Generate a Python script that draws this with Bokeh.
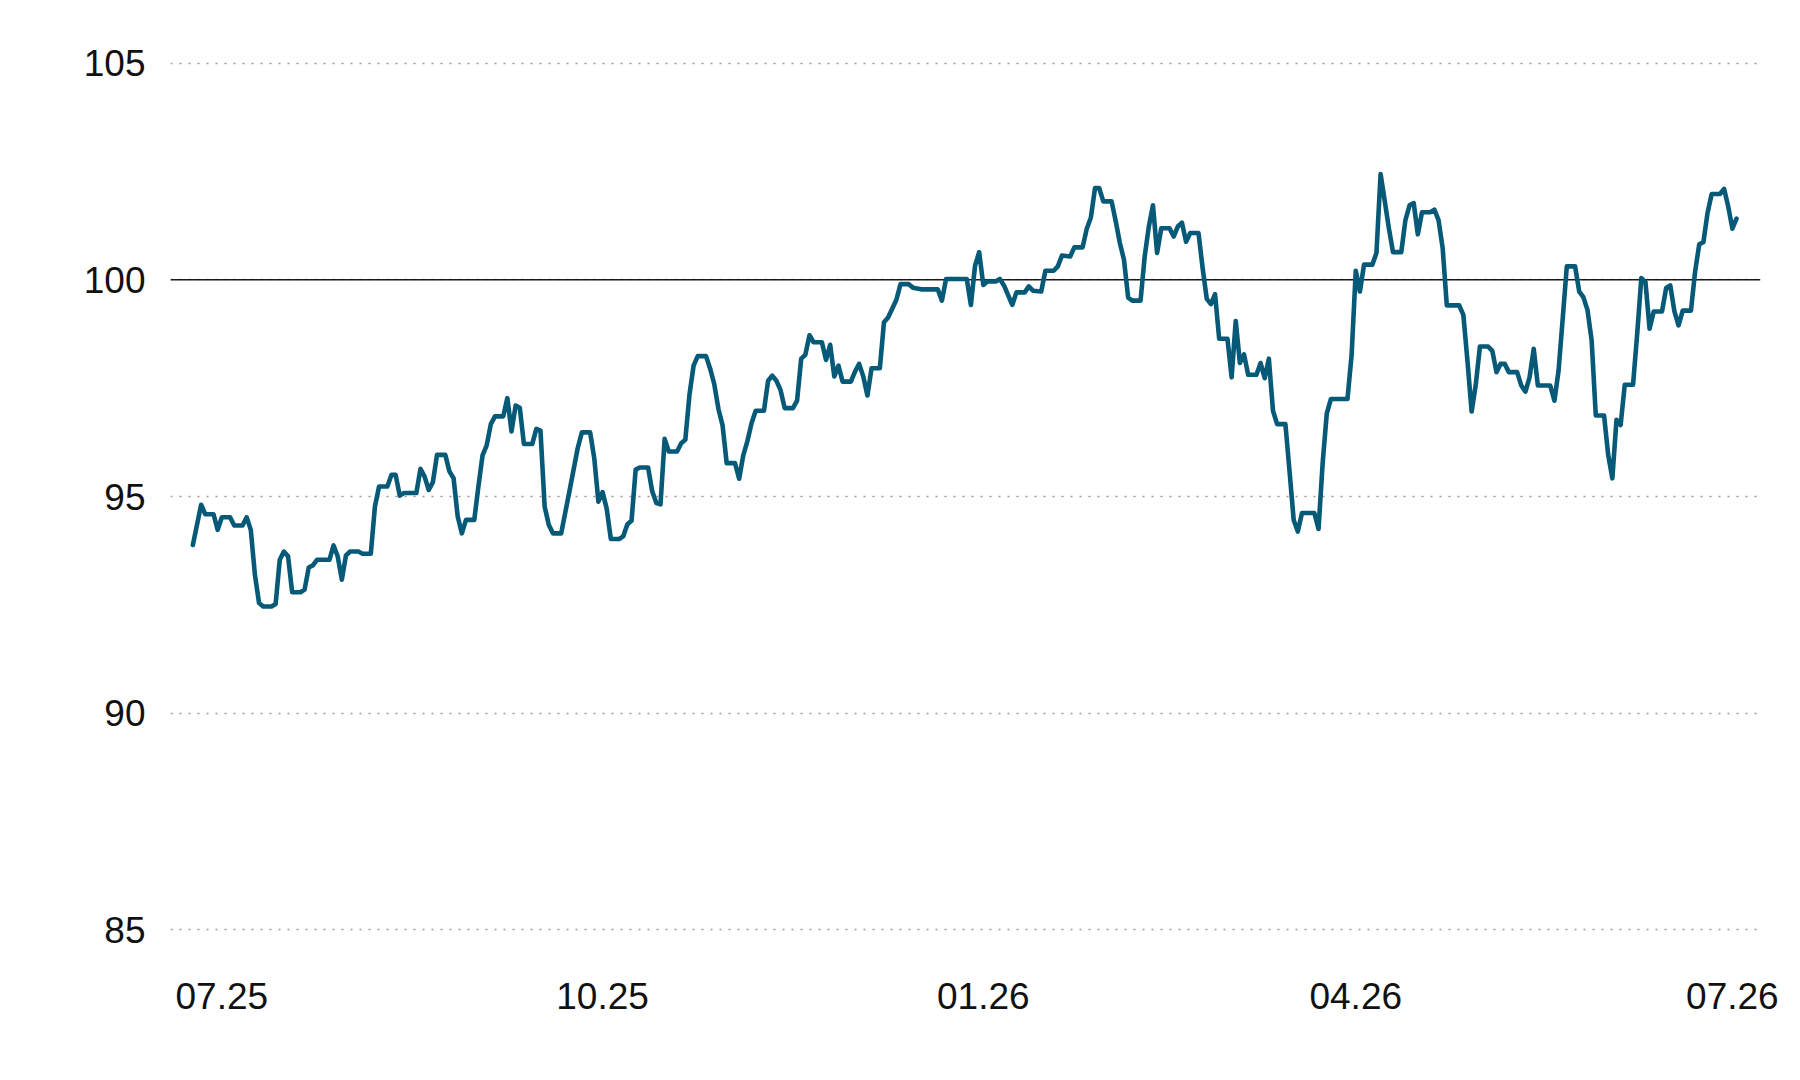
import pandas as pd
from bokeh.plotting import figure
from bokeh.models import Range1d, FixedTicker, DatetimeTickFormatter, Span
from bokeh.embed import file_html
from bokeh.resources import INLINE

# ---------------- data ----------------
start_date = "2025-07-01"
day_offset = [
    -7, -5, -4, -2, -1, 0, 2, 3, 5, 6, 7, 8, 9, 10, 12, 13, 14, 15, 16, 17, 19, 20,
    21, 22, 23, 26, 27, 28, 29, 30, 31, 33, 34, 36, 37, 38, 40, 41, 42, 43, 44, 47,
    48, 49, 50, 51, 52, 54, 55, 56, 57, 58, 59, 61, 62, 63, 64, 65, 66, 68, 69, 70,
    71, 72, 73, 75, 76, 77, 78, 79, 80, 82, 84, 86, 87, 89, 90, 91, 92, 93, 94, 96,
    97, 98, 99, 100, 101, 103, 104, 105, 106, 107, 108, 110, 111, 112, 113, 114, 115,
    117, 118, 119, 120, 121, 122, 124, 125, 126, 127, 128, 129, 131, 132, 133, 134,
    135, 136, 138, 139, 140, 141, 142, 143, 145, 146, 147, 148, 149, 150, 152, 153,
    154, 155, 156, 157, 159, 160, 161, 163, 164, 166, 167, 169, 173, 174, 175, 180,
    181, 182, 183, 184, 185, 187, 188, 189, 191, 192, 194, 195, 196, 198, 199, 201,
    202, 203, 205, 206, 208, 209, 210, 211, 212, 213, 215, 216, 217, 218, 219, 220,
    222, 223, 224, 225, 226, 227, 229, 230, 231, 232, 233, 234, 236, 237, 238, 239,
    240, 241, 243, 244, 245, 246, 247, 248, 250, 251, 252, 253, 254, 255, 257, 258,
    259, 260, 261, 264, 265, 266, 267, 268, 272, 273, 274, 275, 276, 278, 279, 280,
    281, 282, 283, 285, 286, 287, 288, 289, 290, 292, 293, 294, 295, 296, 299, 300,
    301, 302, 303, 304, 306, 307, 308, 309, 310, 311, 313, 314, 315, 316, 317, 318,
    321, 322, 323, 324, 325, 327, 328, 329, 330, 331, 332, 334, 335, 336, 337, 338,
    339, 341, 342, 343, 344, 345, 346, 348, 349, 350, 351, 352, 353, 355, 356, 357,
    358, 359, 360, 362, 363, 364, 365, 366,
]
index_value = [
    93.88, 94.81, 94.59, 94.59, 94.23, 94.52, 94.52, 94.33, 94.33, 94.52, 94.23, 93.19,
    92.54, 92.46, 92.46, 92.52, 93.54, 93.73, 93.62, 92.79, 92.79, 92.85, 93.36, 93.41,
    93.54, 93.54, 93.87, 93.62, 93.08, 93.64, 93.73, 93.73, 93.68, 93.68, 94.77, 95.23,
    95.23, 95.50, 95.50, 95.02, 95.08, 95.08, 95.64, 95.46, 95.15, 95.33, 95.96, 95.96,
    95.58, 95.42, 94.54, 94.15, 94.46, 94.46, 95.23, 95.95, 96.18, 96.67, 96.85, 96.85,
    97.27, 96.50, 97.10, 97.05, 96.21, 96.21, 96.56, 96.52, 94.77, 94.35, 94.15, 94.15,
    95.12, 96.12, 96.48, 96.48, 95.88, 94.88, 95.10, 94.72, 94.02, 94.02, 94.08, 94.36,
    94.44, 95.62, 95.67, 95.67, 95.12, 94.85, 94.82, 96.33, 96.04, 96.04, 96.23, 96.31,
    97.35, 98.02, 98.24, 98.24, 97.95, 97.59, 97.02, 96.64, 95.77, 95.77, 95.41, 95.95,
    96.28, 96.69, 96.98, 96.98, 97.67, 97.79, 97.67, 97.46, 97.04, 97.04, 97.21, 98.18,
    98.27, 98.72, 98.56, 98.56, 98.15, 98.50, 97.77, 98.02, 97.65, 97.65, 97.88, 98.06,
    97.77, 97.33, 97.96, 97.96, 99.02, 99.13, 99.54, 99.90, 99.90, 99.82, 99.78, 99.78,
    99.52, 100.02, 100.02, 99.42, 100.32, 100.64, 99.88, 99.96, 99.96, 100.02, 99.87,
    99.42, 99.71, 99.71, 99.85, 99.75, 99.73, 100.21, 100.21, 100.31, 100.56, 100.54,
    100.75, 100.75, 101.18, 101.44, 102.12, 102.12, 101.81, 101.81, 101.35, 100.85,
    100.46, 99.59, 99.52, 99.52, 100.54, 101.23, 101.72, 100.62, 101.19, 101.19, 101.00,
    101.23, 101.32, 100.88, 101.08, 101.08, 100.27, 99.56, 99.44, 99.67, 98.64, 98.64,
    97.75, 99.05, 98.08, 98.28, 97.81, 97.81, 98.08, 97.73, 98.18, 96.98, 96.67, 96.67,
    95.58, 94.46, 94.19, 94.62, 94.62, 94.25, 95.77, 96.92, 97.25, 97.25, 98.27, 100.21,
    99.73, 100.35, 100.35, 100.62, 102.44, 101.82, 101.19, 100.64, 100.64, 101.38,
    101.72, 101.77, 101.05, 101.56, 101.56, 101.62, 101.38, 100.73, 99.41, 99.41, 99.19,
    98.12, 96.96, 97.58, 98.46, 98.46, 98.36, 97.87, 98.06, 98.06, 97.87, 97.87, 97.56,
    97.42, 97.75, 98.41, 97.56, 97.56, 97.21, 97.90, 99.10, 100.31, 100.31, 99.73, 99.60,
    99.30, 98.60, 96.87, 96.87, 95.96, 95.42, 96.77, 96.65, 97.58, 97.58, 98.75, 100.04,
    99.95, 98.87, 99.27, 99.27, 99.81, 99.87, 99.27, 98.95, 99.29, 99.29, 100.19, 100.82,
    100.87, 101.54, 101.98, 101.98, 102.10, 101.69, 101.18, 101.41,
]
x_tick_dates = ["2025-07-01", "2025-10-01", "2026-01-01", "2026-04-01", "2026-07-01"]
y_ticks = [85, 90, 95, 100, 105]
reference_level = 100

# ---------------- chart ----------------
t0 = pd.Timestamp(start_date)
dates = t0 + pd.to_timedelta(day_offset, unit="D")

FONT = "Liberation Sans"
TEXT = "#111111"

p = figure(
    width=1800, height=1080,
    x_axis_type="datetime",
    output_backend="svg",
    toolbar_location=None,
    min_border_left=170, min_border_right=40,
    min_border_top=41, min_border_bottom=129,
    outline_line_color=None,
    background_fill_color="white",
    border_fill_color="white",
)
p.x_range = Range1d(t0 - pd.Timedelta(days=12.4), t0 + pd.Timedelta(days=371.8))
p.y_range = Range1d(84.5, 105.5)

# grid
p.xgrid.grid_line_color = None
p.ygrid.ticker = FixedTicker(ticks=y_ticks)
p.ygrid.grid_line_color = "#9a9a9a"
p.ygrid.grid_line_width = 1.5
p.ygrid.grid_line_dash = "2 7"

# reference line at 100
p.add_layout(Span(location=reference_level, dimension="width",
                  line_color="#1a1a1a", line_width=1.5, level="underlay"))

# series
p.line(dates, index_value, line_color="#065a78", line_width=4.6,
       line_join="round", line_cap="round")

# axes
p.xaxis.ticker = FixedTicker(ticks=[pd.Timestamp(d).timestamp() * 1000 for d in x_tick_dates])
fmt = "%m.%y"
p.xaxis.formatter = DatetimeTickFormatter(
    milliseconds=fmt, seconds=fmt, minsec=fmt, minutes=fmt, hourmin=fmt,
    hours=fmt, days=fmt, months=fmt, years=fmt)
p.yaxis.ticker = FixedTicker(ticks=y_ticks)

for ax in (p.xaxis[0], p.yaxis[0]):
    ax.axis_line_color = None
    ax.major_tick_line_color = None
    ax.minor_tick_line_color = None
    ax.major_tick_out = 0
    ax.major_tick_in = 0
    ax.minor_tick_out = 0
    ax.major_label_text_font = FONT
    ax.major_label_text_font_size = "37px"
    ax.major_label_text_color = TEXT

p.xaxis.major_label_standoff = 31
p.yaxis.major_label_standoff = 25

open("out.html", "w").write(file_html(p, INLINE))
